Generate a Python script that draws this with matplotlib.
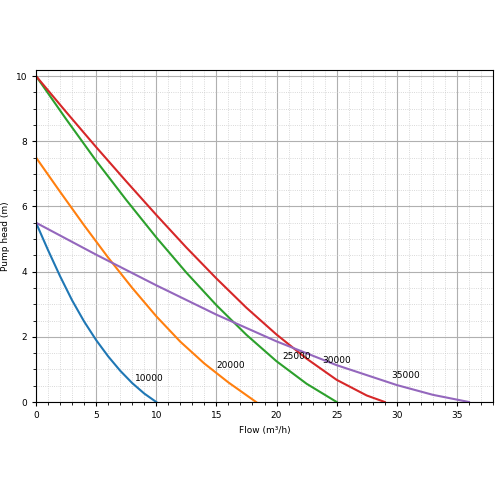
import numpy as np
import matplotlib
matplotlib.use('Agg')
import matplotlib.pyplot as plt
from matplotlib.ticker import MultipleLocator

# pump curves: flow (m3/h) vs head (m)
q_10000 = [0, 1, 2, 3, 4, 5, 6, 7, 8, 9, 10]
h_10000 = [5.5, 4.66, 3.86, 3.12, 2.47, 1.9, 1.4, 0.96, 0.58, 0.26, 0]

q_20000 = [0, 2, 4, 6, 8, 10, 12, 14, 16, 18.3]
h_20000 = [7.5, 6.45, 5.42, 4.43, 3.5, 2.63, 1.85, 1.18, 0.6, 0]

q_25000 = [0, 2.5, 5, 7.5, 10, 12.5, 15, 17.5, 20, 22.5, 25]
h_25000 = [10, 8.68, 7.4, 6.2, 5.05, 3.97, 2.97, 2.06, 1.25, 0.56, 0]

q_30000 = [0, 2.5, 5, 7.5, 10, 12.5, 15, 17.5, 20, 22.5, 25, 27.5, 29]
h_30000 = [10, 8.9, 7.82, 6.77, 5.74, 4.74, 3.79, 2.89, 2.07, 1.33, 0.68, 0.2, 0]

q_35000 = [0, 5, 10, 15, 20, 25, 30, 33, 36]
h_35000 = [5.5, 4.52, 3.58, 2.68, 1.86, 1.13, 0.52, 0.22, 0]

names = ['10000', '20000', '25000', '30000', '35000']
flows = [q_10000, q_20000, q_25000, q_30000, q_35000]
heads = [h_10000, h_20000, h_25000, h_30000, h_35000]

fs = 6.5
fig = plt.figure(figsize=(5, 5), dpi=100)
ax = fig.add_axes([0.072, 0.196, 0.914, 0.665])

for name, q, h in zip(names, flows, heads):
    ax.plot(q, h, lw=1.5)
    qm = q[-1]
    ax.text(0.82 * qm, np.interp(0.8 * qm, q, h), name, fontsize=fs,
            ha='left', va='bottom')

ax.set_xlim(0, 38)
ax.set_ylim(0, 10.2)
ax.xaxis.set_major_locator(MultipleLocator(5))
ax.xaxis.set_minor_locator(MultipleLocator(1))
ax.yaxis.set_major_locator(MultipleLocator(2))
ax.yaxis.set_minor_locator(MultipleLocator(0.5))
ax.grid(which='major', color='#b0b0b0', lw=0.8)
ax.grid(which='minor', color='#cccccc', lw=0.6, linestyle=':')
ax.tick_params(labelsize=fs, length=3)
ax.tick_params(which='minor', length=2)
ax.set_xlabel('Flow (m\u00b3/h)', fontsize=fs)
ax.set_ylabel('Pump head (m)', fontsize=fs)

plt.savefig('out.png', dpi=100)
